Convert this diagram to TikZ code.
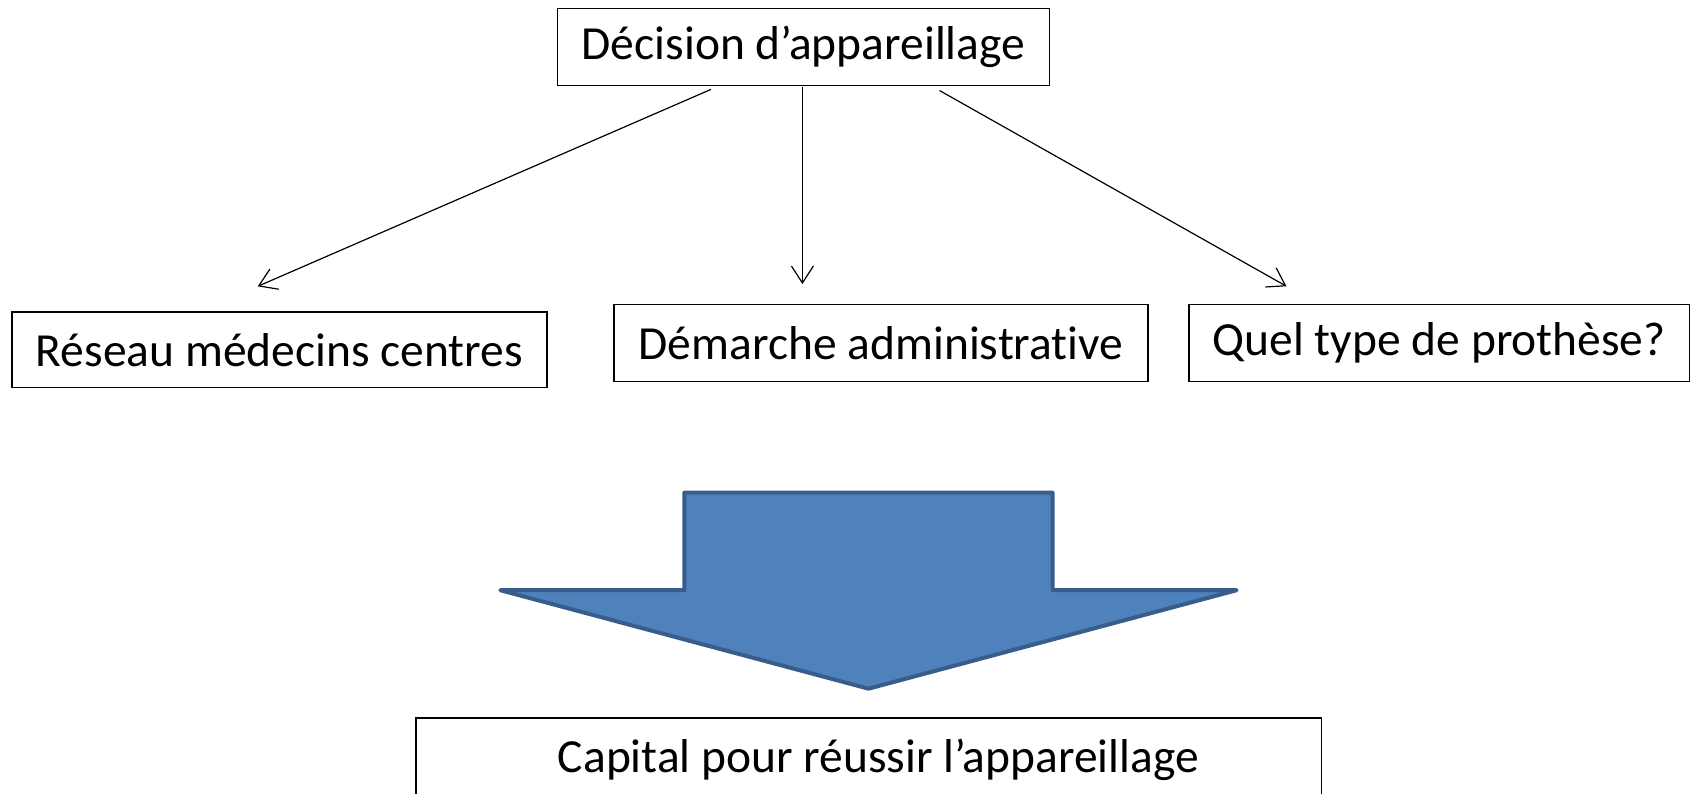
\documentclass[tikz,border=0pt]{standalone}
\usepackage{fontspec}
\setmainfont{Carlito}[Ligatures=NoCommon]
\usetikzlibrary{arrows.meta,calc}
\definecolor{arrowfill}{HTML}{4F81BD}
\definecolor{arrowedge}{HTML}{385D8A}
\begin{document}
\begin{tikzpicture}[x=1pt,y=-1pt,
  box/.style={draw=black,line width=1.3pt,rectangle,inner sep=0pt,font=\fontsize{47.5}{57}\selectfont},
  conn/.style={draw=black,line width=1.2pt,-{Straight Barb[length=17pt,width=22pt]}},
  bigarrow/.style={fill=arrowfill,draw=arrowedge,line width=4pt,line join=round}]
\useasboundingbox (0,0) rectangle (1698,794);
\node[box,minimum width=491.6,minimum height=76.8] (T) at (803.5,47.1) {Décision d’appareillage};
\node[box,minimum width=535,minimum height=75.8] (L) at (279.4,349.8) {Réseau médecins centres};
\node[box,minimum width=534,minimum height=77] (M) at (881,342.75) {Démarche administrative};
\node[box,minimum width=500.3,minimum height=77] (R) at (1439.2,342.75) {Quel type de prothèse?};
\node[box,minimum width=905.3,minimum height=84] (B) at (868.5,760) {\hspace*{20pt}Capital pour réussir l’appareillage};
\draw[conn] ($(T.south west)+(153.8,3.3)$) -- ($(L.north)+(-21.7,-24.9)$);
\draw[conn] ($(T.south)+(-1.1,1.1)$) -- ($(M.north)+(-78.6,-19.5)$);
\draw[conn] ($(T.south east)+(-110.4,4.4)$) -- ($(R.north)+(-152.7,-17.3)$);
\draw[bigarrow] (684.4,492.7) -- (1052.6,492.7) -- (1052.6,590.2) -- (1236.7,590.2) -- (868.5,688.7) -- (500.3,590.2) -- (684.4,590.2) -- cycle;
\end{tikzpicture}
\end{document}
